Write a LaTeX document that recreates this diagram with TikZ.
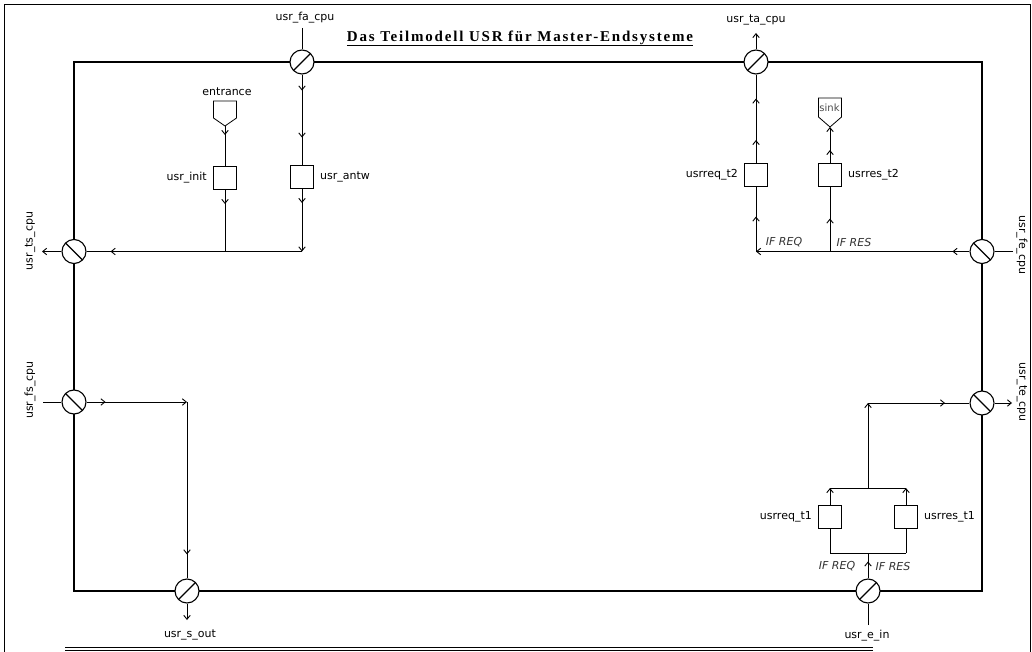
\documentclass[tikz,border=0pt]{standalone}
\usepackage{fontspec}
\setmainfont{DejaVu Sans}
\newfontfamily\titlefont{Liberation Serif}
\usetikzlibrary{arrows.meta,decorations.markings,positioning}

\tikzset{
  >={Straight Barb[length=4pt,width=6.5pt]},
  conn/.style={line width=0.9pt},
  arrat/.style={postaction={decorate,decoration={markings,mark=at position #1 with {\arrow{>}}}}},
  port/.style={circle,draw,line width=1.1pt,fill=white,minimum size=24pt,inner sep=0pt},
  portr/.style={port,path picture={\draw[line width=1.1pt] (path picture bounding box.south west) -- (path picture bounding box.north east);}},
  portl/.style={port,path picture={\draw[line width=1.1pt] (path picture bounding box.north west) -- (path picture bounding box.south east);}},
  blk/.style={draw,line width=1pt,fill=white,minimum size=23pt,inner sep=0pt},
  lbl/.style={font=\fontsize{11}{13}\selectfont,inner sep=1pt},
  ifl/.style={font=\fontsize{11}{13}\selectfont\itshape,text=black!80,inner sep=1pt}
}

\begin{document}
\begin{tikzpicture}[x=1pt,y=-1pt]
\useasboundingbox (0,0) rectangle (1032,652);

% outer frame and footer rule
\draw[line width=1.6pt] (4.5,656) -- (4.5,4.5) -- (1030.5,4.5) -- (1030.5,656);
\draw[line width=0.9pt] (65,647.5) -- (873,647.5);
\draw[line width=0.9pt] (65,650.5) -- (873,650.5);

% title
\node[font=\titlefont\bfseries\fontsize{15}{17}\selectfont\addfontfeature{LetterSpace=12},anchor=base,inner sep=0pt] (title) at (520,41.5) {Das Teilmodell USR für Master-Endsysteme};
\draw[line width=1pt] ([yshift=-4.5pt]title.base west) -- ([yshift=-4.5pt]title.base east);

% model frame
\draw[line width=2.4pt] (74,62) rectangle (982,591);

% ports
\node[portr] (fa) at (302,62) {};
\node[portr] (ta) at (756,62) {};
\node[portl] (ts) at (74,251.5) {};
\node[portl] (fe) at (982,251.5) {};
\node[portl] (fs) at (74,402) {};
\node[portl] (te) at (982,403) {};
\node[portr] (sout) at (187,591) {};
\node[portr] (ein) at (868,591) {};

% boxes
\node[blk] (init) at (225,178) {};
\node[blk] (antw) at (302,177) {};
\node[blk] (reqb) at (756,175) {};
\node[blk] (resb) at (830,175) {};
\node[blk] (req1) at (830,517) {};
\node[blk] (res1) at (906,517) {};

% entrance and sink
\coordinate (entr) at (225,126);
\draw[line width=0.8pt,shift={(entr)}] (-11.5,-25) -- (11.5,-25) -- (11.5,-8) -- (0,0) -- (-11.5,-8) -- cycle;
\coordinate (sink) at (830,127);
\draw[line width=0.8pt,shift={(sink)}] (-11.5,-29) -- (11.5,-29) -- (11.5,-10) -- (0,0) -- (-11.5,-10) -- cycle;
\node[font=\fontsize{10}{12}\selectfont,text=black!70,inner sep=0pt] (lsink) at (829.5,108) {sink};

% free ends and junctions
\coordinate (fa_in) at (302,28);
\coordinate (ta_out) at (756,33);
\coordinate (ts_out) at (42,251.5);
\coordinate (fe_in) at (1013,251.5);
\coordinate (fs_in) at (43,402);
\coordinate (te_out) at (1012,403);
\coordinate (sout_out) at (187,620);
\coordinate (ein_in) at (868,625);
\coordinate (j1) at (302,251.5);
\coordinate (j2) at (225,251.5);
\coordinate (jr1) at (756,251.5);
\coordinate (jr2) at (830,251.5);
\coordinate (jl) at (187,402);
\coordinate (jb) at (868,553);
\coordinate (jbl) at (830,553);
\coordinate (jbr) at (906,553);
\coordinate (jt) at (868,488);
\coordinate (jtl) at (830,488);
\coordinate (jtr) at (906,488);
\coordinate (jte) at (868,403);

% upper left
\draw[conn] (fa_in) -- (fa);
\draw[conn,arrat=16pt,arrat=63pt] (fa) -- (antw);
\draw[conn,arrat=9pt] (entr) -- (init);
\draw[conn,arrat=14pt] (init) -- (j2);
\draw[conn,arrat=14pt,->] (antw) -- (j1);
\draw[conn,arrat=-24pt] (j1) -- (ts);
\draw[conn,->] (ts) -- (ts_out);

% upper right
\draw[conn,->] (ta) -- (ta_out);
\draw[conn,arrat=23pt,arrat=-24pt] (reqb) -- (ta);
\draw[conn,arrat=13pt,->] (resb) -- (sink);
\draw[conn] (fe_in) -- (fe);
\draw[conn,arrat=17pt,->] (fe) -- (jr1);
\draw[conn,arrat=35pt] (jr1) -- (reqb);
\draw[conn,arrat=33pt] (jr2) -- (resb);

% lower left
\draw[conn] (fs_in) -- (fs);
\draw[conn,arrat=19pt,->] (fs) -- (jl);
\draw[conn,arrat=-24pt] (jl) -- (sout);
\draw[conn,->] (sout) -- (sout_out);

% lower right
\draw[conn] (ein_in) -- (ein);
\draw[conn,arrat=17pt] (ein) -- (jb);
\draw[conn] (jbl) -- (jbr);
\draw[conn] (jbl) -- (req1);
\draw[conn] (jbr) -- (res1);
\draw[conn,->] (req1) -- (jtl);
\draw[conn,->] (res1) -- (jtr);
\draw[conn] (jtl) -- (jtr);
\draw[conn,->] (jt) -- (jte);
\draw[conn,arrat=77pt] (jte) -- (te);
\draw[conn,->] (te) -- (te_out);

% labels
\node[lbl] (lfa) at (305,18) {usr\_fa\_cpu};
\node[lbl] (lta) at (756,20) {usr\_ta\_cpu};
\node[lbl] (lentr) at (227,92) {entrance};
\node[lbl,rotate=90] (lts) at (30,241) {usr\_ts\_cpu};
\node[lbl,rotate=90] (lfs) at (30,390) {usr\_fs\_cpu};
\node[lbl,rotate=-90] (lfe) at (1022,245) {usr\_fe\_cpu};
\node[lbl,rotate=-90] (lte) at (1022,392) {usr\_te\_cpu};
\node[lbl] (lsout) at (190,635) {usr\_s\_out};
\node[lbl] (lein) at (867,636) {usr\_e\_in};
\node[lbl,left=5pt of init] (linit) {usr\_init};
\node[lbl,right=5pt of antw] (lantw) {usr\_antw};
\node[lbl,left=5pt of reqb] (lreqb) {usrreq\_t2};
\node[lbl,right=5pt of resb] (lresb) {usrres\_t2};
\node[lbl,left=5pt of req1] (lreq1) {usrreq\_t1};
\node[lbl,right=5pt of res1] (lres1) {usrres\_t1};
\node[ifl] (ifa) at (784,242) {IF REQ};
\node[ifl] (ifb) at (854,242) {IF RES};
\node[ifl] (ifc) at (837,566) {IF REQ};
\node[ifl] (ifd) at (893,566) {IF RES};
\end{tikzpicture}
\end{document}
